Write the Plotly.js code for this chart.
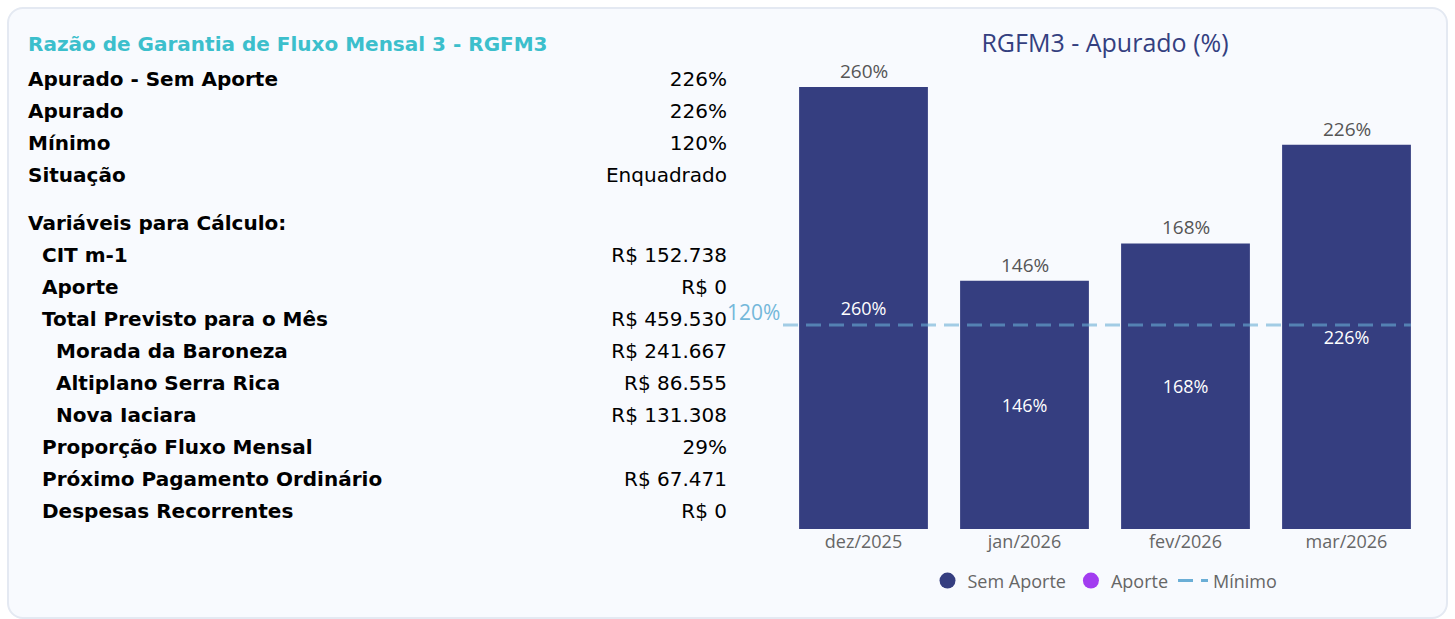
<!DOCTYPE html>
<html>
<head>
<meta charset="utf-8">
<script src="https://cdn.plot.ly/plotly-3.0.1.min.js"></script>
<style>
  html, body { margin:0; padding:0; background:#ffffff; width:1455px; height:619px; overflow:hidden; }
  #card { position:absolute; left:7px; top:7px; width:1441px; height:612px; box-sizing:border-box;
          border:2px solid #e4e9f2; border-radius:16px; background:#f8fafe; }
  #table { position:absolute; left:0; top:0; width:760px; height:619px; font-family:"DejaVu Sans", sans-serif; color:#000; }
  .row { position:absolute; height:32px; line-height:32px; white-space:nowrap; font-size:20px; }
  .lab { font-weight:bold; }
  .val { text-align:right; }
  #chart { position:absolute; left:0; top:0; width:1455px; height:619px; }
</style>
</head>
<body>
<div id="card"></div>
<div id="table"></div>
<div id="chart"></div>
<script>
// ---- Table data ----
const tituloTabela = 'Razão de Garantia de Fluxo Mensal 3 - RGFM3';
const rotulos = ['Apurado - Sem Aporte','Apurado','Mínimo','Situação',
  'Variáveis para Cálculo:','CIT m-1','Aporte','Total Previsto para o Mês',
  'Morada da Baroneza','Altiplano Serra Rica','Nova Iaciara',
  'Proporção Fluxo Mensal','Próximo Pagamento Ordinário','Despesas Recorrentes'];
const valores = ['226%','226%','120%','Enquadrado',
  '','R$ 152.738','R$ 0','R$ 459.530',
  'R$ 241.667','R$ 86.555','R$ 131.308',
  '29%','R$ 67.471','R$ 0'];
const niveis = [0,0,0,0, 0,1,1,1, 2,2,2, 1,1,1];

// ---- Chart data ----
const categorias = ['dez/2025','jan/2026','fev/2026','mar/2026'];
const semAporte = [260,146,168,226];
const minimo = 120;
const tituloGrafico = 'RGFM3 - Apurado (%)';

// build table
const tbl = document.getElementById('table');
function addRow(text, cls, left, right, centerY, extra){
  const d = document.createElement('div');
  d.className = 'row ' + cls;
  d.textContent = text;
  d.style.top = (centerY - 16) + 'px';
  if (right !== null) { d.style.right = (760 - right) + 'px'; }
  else { d.style.left = left + 'px'; }
  if (extra) Object.assign(d.style, extra);
  tbl.appendChild(d);
}
addRow(tituloTabela, 'lab', 28, null, 44, {color:'#3cbfcc'});
let y = 79;
rotulos.forEach((r, i) => {
  if (i === 4) y += 16;
  addRow(r, 'lab', 28 + niveis[i]*14, null, y);
  if (valores[i] !== '') addRow(valores[i], 'val', 0, 727, y);
  y += 32;
});

// build chart
const corBarra = '#353e80';
const traces = [
  {
    type:'bar', x:categorias, y:semAporte, name:'Sem Aporte', showlegend:false,
    marker:{color:corBarra},
    text:semAporte.map(v => v + '%'), textposition:'inside', insidetextanchor:'middle',
    textfont:{color:'#ffffff', size:18}, hoverinfo:'skip'
  },
  { type:'scatter', mode:'markers', x:[null], y:[null], name:'Sem Aporte',
    marker:{color:corBarra, size:16, symbol:'circle'} },
  { type:'scatter', mode:'markers', x:[null], y:[null], name:'Aporte',
    marker:{color:'#a23cf0', size:16, symbol:'circle'} },
  { type:'scatter', mode:'lines', x:[null], y:[null], name:'Mínimo',
    line:{color:'#6aaed6', width:3, dash:'15px,8px'} }
];

const annotations = semAporte.map((v, i) => ({
  x:categorias[i], y:v, xref:'x', yref:'y', text:v + '%', showarrow:false,
  yanchor:'bottom', yshift:1, font:{size:19, color:'#555555'}
}));
annotations.push({
  x:0, xref:'paper', y:minimo, yref:'y', text:minimo + '%', showarrow:false,
  xanchor:'right', yanchor:'middle', yshift:13, xshift:-1, font:{size:21, color:'#74b8da'}
});

const layout = {
  width:1455, height:619,
  paper_bgcolor:'rgba(0,0,0,0)', plot_bgcolor:'rgba(0,0,0,0)',
  margin:{l:783, r:28, t:70, b:90, pad:0},
  font:{family:'"Open Sans", sans-serif', color:'#666666'},
  title:{text:tituloGrafico, x:0.5, xref:'paper', xanchor:'center',
         y:1 - 43/619, yref:'container', yanchor:'middle',
         font:{size:25, color:'#343f80'}},
  xaxis:{type:'category', range:[-0.5, categorias.length - 0.5], showgrid:false, zeroline:false,
         showline:false, ticks:'', tickfont:{size:18, color:'#666666'}, fixedrange:true},
  yaxis:{range:[0, 270], visible:false, showgrid:false, zeroline:false, fixedrange:true},
  bargap:0.2,
  showlegend:true,
  legend:{orientation:'h', x:0.5, xanchor:'center', y:-0.113, yanchor:'middle',
          font:{size:18, color:'#666666'}, bgcolor:'rgba(0,0,0,0)', traceorder:'normal'},
  shapes:[{
    type:'line', xref:'x', yref:'y', x0:-0.5, x1:categorias.length - 0.6, y0:minimo, y1:minimo,
    line:{color:'#6aaed6', width:3, dash:'15px,8px'}, opacity:0.6, layer:'above'
  }],
  annotations:annotations
};

Plotly.newPlot('chart', traces, layout, {displayModeBar:false, staticPlot:true});
</script>
</body>
</html>
